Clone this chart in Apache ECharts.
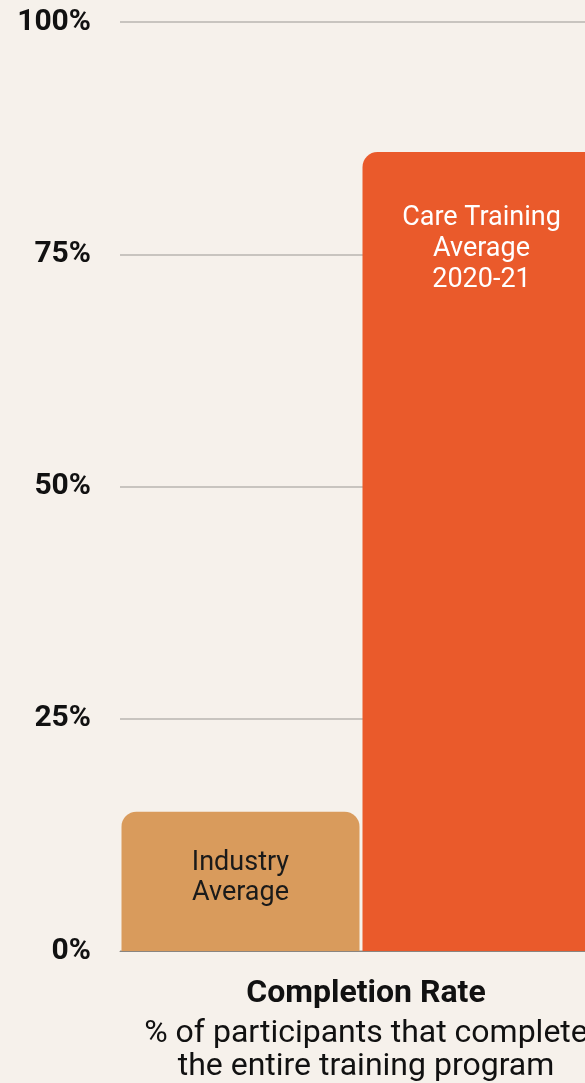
<!DOCTYPE html>
<html>
<head>
<meta charset="utf-8">
<script src="https://cdn.jsdelivr.net/npm/echarts@6/dist/echarts.min.js"></script>
<style>
  html, body { margin: 0; padding: 0; background: #f6f1eb; }
  #chart { width: 585px; height: 1083px; }
</style>
</head>
<body>
<div id="chart"></div>
<script>
const categories = ['Industry\nAverage', 'Care Training\nAverage\n2020-21']
const completionRates = [15, 86]
const barColors = ['#d99b5c', '#ea5a2b']
const labelColors = ['#1a1a1a', '#ffffff']
const yTicks = [0, 25, 50, 75, 100]

const chart = echarts.init(document.getElementById('chart'))

const fontFamily = 'Roboto, "Noto Sans", sans-serif'

chart.setOption({
  backgroundColor: '#f6f1eb',
  animation: false,
  title: {
    text: 'Completion Rate',
    subtext: '% of participants that complete\nthe entire training program',
    left: 361,
    top: 971,
    textAlign: 'center',
    itemGap: 5,
    textStyle: { fontFamily, fontSize: 32, fontWeight: 'bold', color: '#111', lineHeight: 36 },
    subtextStyle: { fontFamily, fontSize: 32, color: '#111', lineHeight: 33 },
  },
  grid: { left: 120, width: 482, top: 22, bottom: 132, outerBoundsMode: 'none', containLabel: false },
  xAxis: {
    type: 'category',
    data: categories,
    axisLine: { lineStyle: { color: '#8a8580', width: 1 } },
    axisTick: { show: false },
    axisLabel: { show: false },
  },
  yAxis: {
    type: 'value',
    min: yTicks[0],
    max: yTicks[yTicks.length - 1],
    interval: 25,
    axisLine: { show: false },
    axisTick: { show: false },
    axisLabel: {
      formatter: '{value}%',
      margin: 29,
      fontFamily,
      fontSize: 30,
      fontWeight: 'bold',
      color: '#111',
    },
    splitLine: { lineStyle: { color: '#b8b5b1', width: 1.5 } },
  },
  series: [{
    type: 'bar',
    barWidth: 238,
    data: completionRates.map((v, i) => ({
      value: v,
      itemStyle: { color: barColors[i], borderRadius: [15, 15, 0, 0] },
      label: {
        show: true,
        formatter: categories[i],
        position: i === 0 ? 'inside' : 'insideTop',
        offset: i === 0 ? [0, -3] : [0, 46],
        color: labelColors[i],
        fontFamily,
        fontSize: 27,
        lineHeight: i === 0 ? 30 : 31,
        align: 'center',
      },
    })),
  }],
})
</script>
</body>
</html>
